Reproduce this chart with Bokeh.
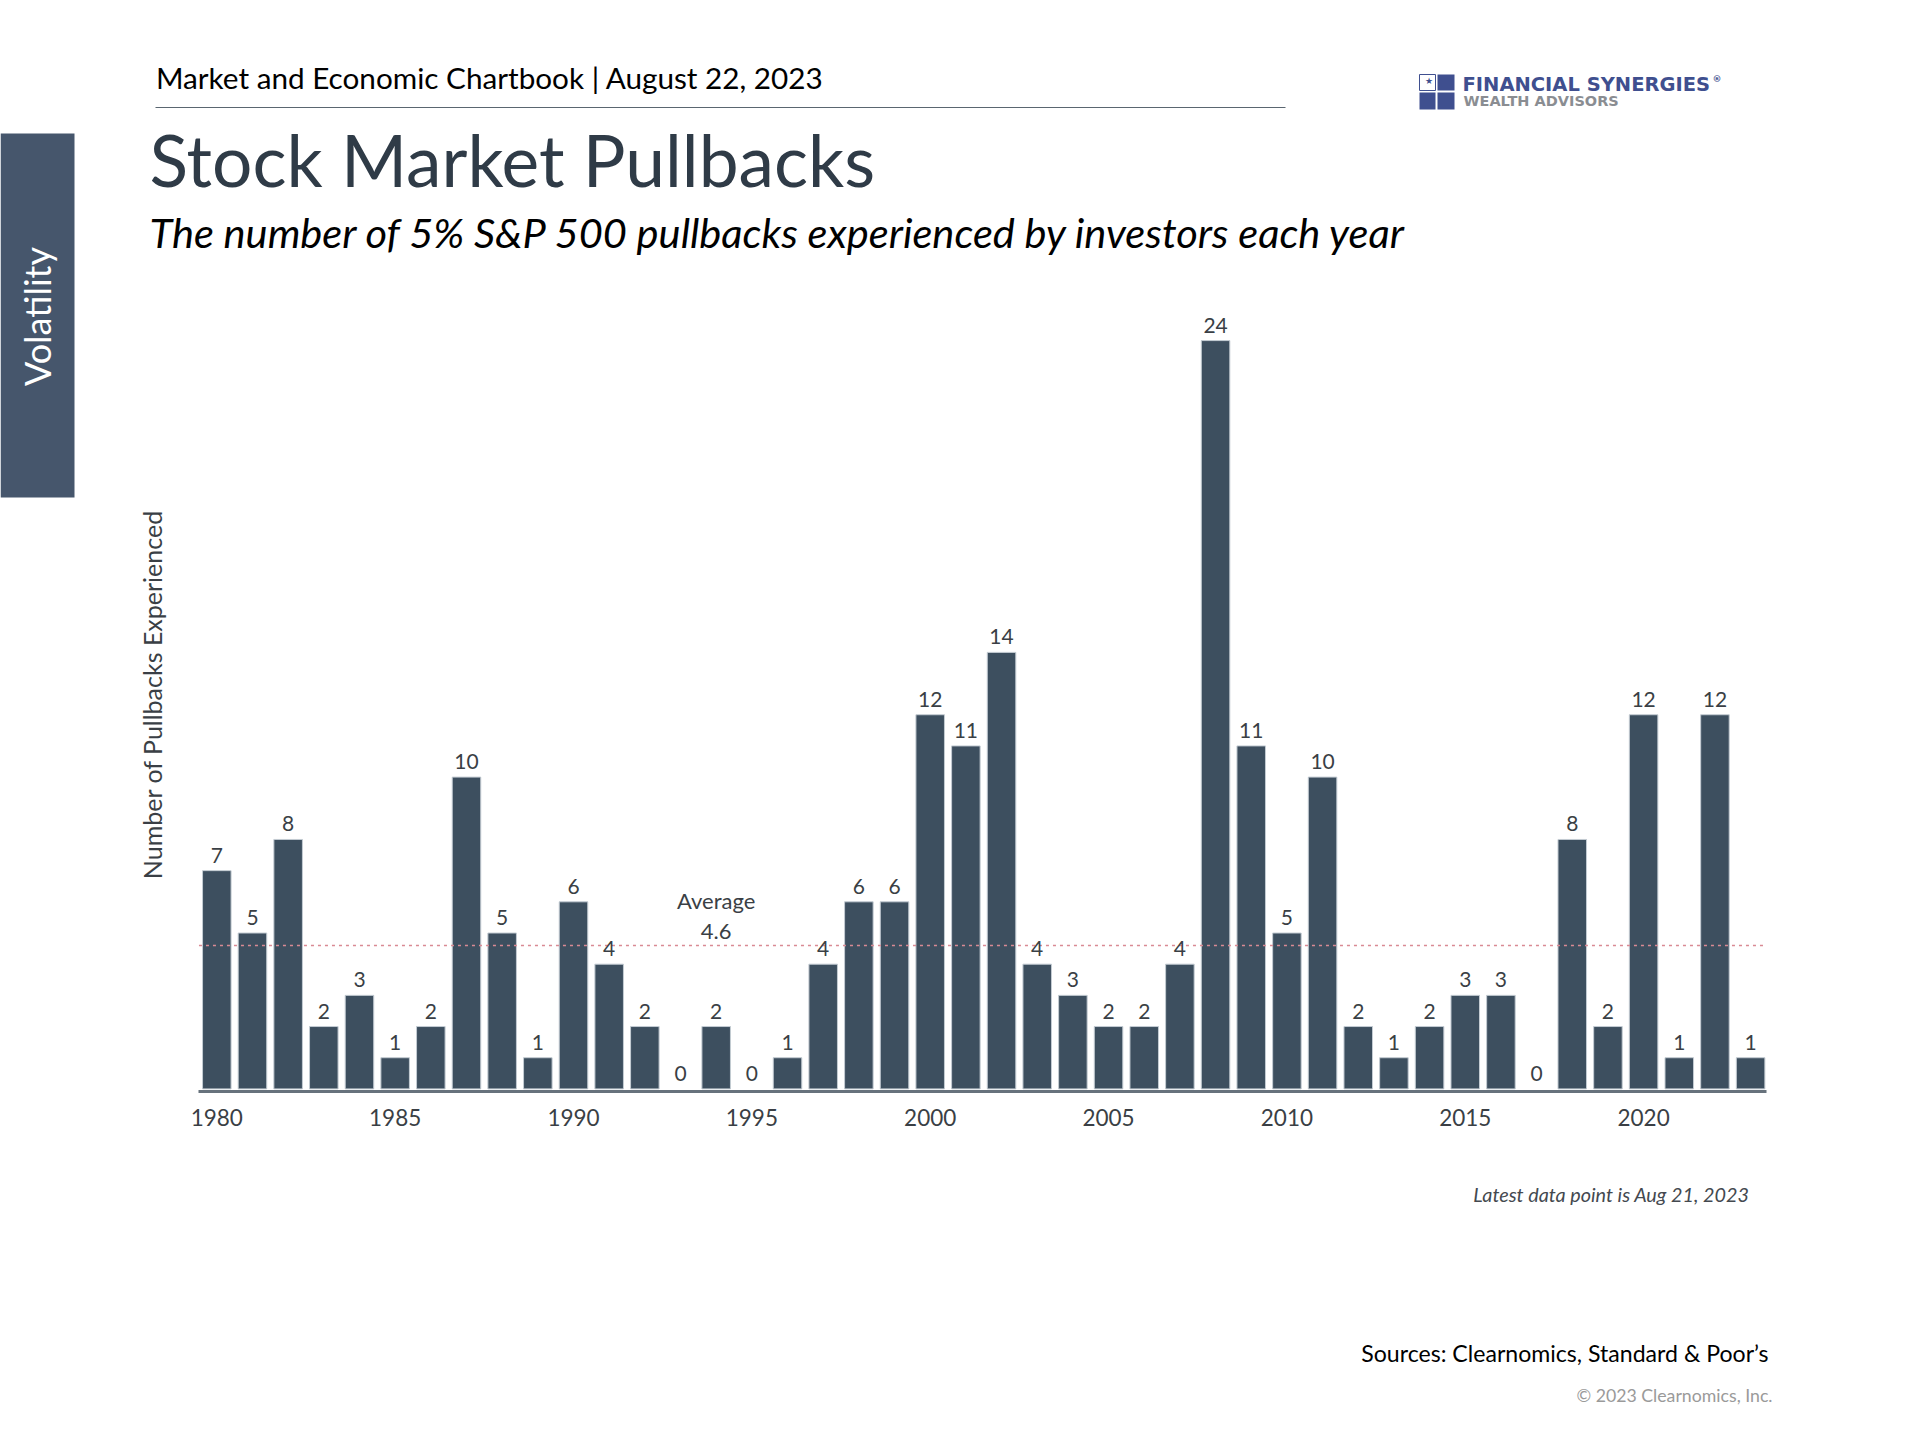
from bokeh.plotting import figure
from bokeh.models import (ColumnDataSource, Label, LabelSet, BoxAnnotation,
                          FixedTicker, Range1d)
from bokeh.core.properties import value
from bokeh.embed import file_html
from bokeh.resources import INLINE

years = list(range(1980, 2024))
pullbacks = [7, 5, 8, 2, 3, 1, 2, 10, 5, 1, 6, 4, 2, 0, 2, 0, 1, 4, 6, 6, 12, 11, 14, 4,
             3, 2, 2, 4, 24, 11, 5, 10, 2, 1, 2, 3, 3, 0, 8, 2, 12, 1, 12, 1]
tick_years = [1980, 1985, 1990, 1995, 2000, 2005, 2010, 2015, 2020]
average_value = 4.6
average_year = 1994
axis_start, axis_end = 1979.5, 2023.45

W, H = 1904, 1424
OFF = 8
FONT = "Lato"
BAR = "#3d4f5f"
INK = "#3a3f45"

PITCH = 35.67
UNIT = 31.18
X0 = 1980 - 216.3 / PITCH
Y_TOP = 1088.4 / UNIT

p = figure(width=W, height=H, output_backend="svg", toolbar_location=None,
           x_range=Range1d(X0, X0 + W / PITCH), y_range=Range1d(Y_TOP - H / UNIT, Y_TOP),
           y_axis_type=None, min_border=0,
           background_fill_color="white", border_fill_color="white")
p.outline_line_color = None
p.grid.visible = False

label_src = ColumnDataSource(dict(year=years, value=pullbacks, text=[str(v) for v in pullbacks]))
bar_src = ColumnDataSource(dict(year=[y for y, v in zip(years, pullbacks) if v > 0],
                                value=[v for v in pullbacks if v > 0]))
p.vbar(x="year", top="value", bottom=0, width=0.8, source=bar_src,
       fill_color=BAR, line_color="#c4ccd3", line_width=1)

p.line([axis_start, axis_end], [average_value, average_value], line_color="#d98a94",
       line_width=1.5, line_dash=[3, 4])

p.add_layout(LabelSet(x="year", y="value", text="text", source=label_src, level="annotation",
                      y_offset=8, text_align="center", text_baseline="bottom",
                      text_font=value(FONT), text_font_size="21px", text_color=INK))

p.add_layout(Label(x=average_year, y=average_value, text=f"{average_value}", y_offset=14,
                   text_align="center", text_baseline="middle",
                   text_font=FONT, text_font_size="22px", text_color=INK))
p.add_layout(Label(x=average_year, y=average_value, text="Average", y_offset=45,
                   text_align="center", text_baseline="middle",
                   text_font=FONT, text_font_size="22px", text_color=INK))

ax = p.xaxis[0]
ax.fixed_location = -0.08
ax.bounds = (axis_start, axis_end)
ax.ticker = FixedTicker(ticks=tick_years)
ax.axis_line_color = "#67727c"
ax.axis_line_width = 3
ax.major_tick_line_color = None
ax.minor_tick_line_color = None
ax.major_label_text_font = FONT
ax.major_label_text_font_size = "22.5px"
ax.major_label_text_color = INK
ax.major_label_standoff = 12


def text(s, x, y, size, color="#000000", align="left", style="normal", angle=0, font=FONT):
    """x, y are page pixels of the picture."""
    p.add_layout(Label(x=x - OFF, y=H - (y - OFF), x_units="screen", y_units="screen",
                       text=s, text_font=font, text_font_size=f"{size}px", text_color=color,
                       text_align=align, text_baseline="middle", text_font_style=style,
                       angle=angle, angle_units="deg"))


def box(l, t, r, b, fill, line=None):
    p.add_layout(BoxAnnotation(left=l - OFF, right=r - OFF, top=H - (t - OFF), bottom=H - (b - OFF),
                               left_units="screen", right_units="screen",
                               top_units="screen", bottom_units="screen",
                               fill_color=fill, fill_alpha=1, line_color=line, line_alpha=1 if line else 0))


text("Number of Pullbacks Experienced", 159, 702, 25, INK, "center", angle=90)
box(8, 141, 82, 505, "#46566c")
text("Volatility", 44, 324, 36, "#ffffff", "center", angle=90)
text("Market and Economic Chartbook | August 22, 2023", 163.4, 85, 29.7)
box(163, 114.5, 1293, 115.5, "#5a6670")
text("Stock Market Pullbacks", 157, 167, 71.3, "#2f3b47")
text("The number of 5% S&P 500 pullbacks experienced by investors each year", 157, 239, 41.6, style="italic")

box(1427, 82, 1443, 98, "#ffffff", "#3f4f8f")
box(1445, 82, 1462, 98, "#3f4f8f")
box(1427, 100, 1443, 117, "#3f4f8f")
box(1445, 100, 1462, 117, "#3f4f8f")
text("★", 1432, 88, 9, "#3f4f8f")
text("FINANCIAL SYNERGIES", 1470, 92, 19.5, "#3f4f8f", style="bold", font="DejaVu Sans")
text("®", 1720, 86, 9, "#3f4f8f", style="bold", font="DejaVu Sans")
text("WEALTH ADVISORS", 1471, 108, 14.5, "#8a8d92", style="bold", font="DejaVu Sans")

text("Latest data point is Aug 21, 2023", 1757, 1201, 19.8, "#44494f", "right", style="italic")
text("Sources: Clearnomics, Standard & Poor\u2019s", 1776, 1360, 23.1, "#000000", "right")
text("\u00a9 2023 Clearnomics, Inc.", 1780, 1403, 17.7, "#9a9a9a", "right")

open("out.html", "w").write(file_html(p, INLINE))
